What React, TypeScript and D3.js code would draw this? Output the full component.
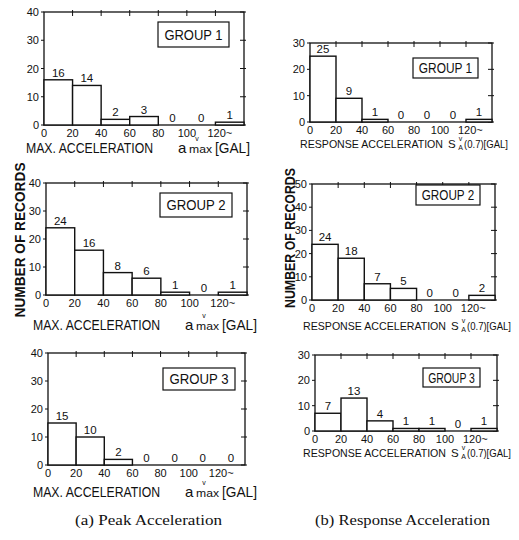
import React, { useEffect, useRef } from 'react';
import * as d3 from 'd3';

// bins are 20 gal wide, the last one is "120 and above"
const binStarts = [0, 20, 40, 60, 80, 100, 120];
const xTickLabels = ['0', '20', '40', '60', '80', '100', '120~'];
const groupNames = ['GROUP 1', 'GROUP 2', 'GROUP 3'];

// (a) peak acceleration, number of records per bin
const peakGroup1 = [16, 14, 2, 3, 0, 0, 1];
const peakGroup2 = [24, 16, 8, 6, 1, 0, 1];
const peakGroup3 = [15, 10, 2, 0, 0, 0, 0];

// (b) response acceleration, number of records per bin
const respGroup1 = [25, 9, 1, 0, 0, 0, 1];
const respGroup2 = [24, 18, 7, 5, 0, 0, 2];
const respGroup3 = [7, 13, 4, 1, 1, 0, 1];

const peakYMax = [40, 40, 40];
const respYMax = [30, 50, 30];

const FONT = "'Liberation Sans', 'DejaVu Sans', sans-serif";

interface Panel {
  kind: 'peak' | 'resp';
  values: number[];
  yMax: number;
  group: string;
  left: number;
  right: number;
  top: number;
  bottom: number;
  box: [number, number, number, number];
  labelX: number;
  labelY: number;
}

const App = () => {
  const ref = useRef<SVGSVGElement>(null);

  useEffect(() => {
    document.body.style.margin = '0';
    const svg = d3.select(ref.current);
    svg.selectAll('*').remove();

    const panels: Panel[] = [
      { kind: 'peak', values: peakGroup1, yMax: peakYMax[0], group: groupNames[0], left: 44, right: 244, top: 12, bottom: 125, box: [158, 22, 229, 47], labelX: 26, labelY: 153 },
      { kind: 'peak', values: peakGroup2, yMax: peakYMax[1], group: groupNames[1], left: 46, right: 247, top: 183, bottom: 295, box: [160, 193, 232, 217], labelX: 33, labelY: 330 },
      { kind: 'peak', values: peakGroup3, yMax: peakYMax[2], group: groupNames[2], left: 48, right: 245, top: 353, bottom: 465, box: [163, 368, 235, 390], labelX: 33, labelY: 497 },
      { kind: 'resp', values: respGroup1, yMax: respYMax[0], group: groupNames[0], left: 310, right: 492, top: 43, bottom: 122, box: [413, 58, 478, 78], labelX: 300, labelY: 148 },
      { kind: 'resp', values: respGroup2, yMax: respYMax[1], group: groupNames[1], left: 312, right: 495, top: 184, bottom: 300, box: [416, 185, 480, 205], labelX: 303, labelY: 330 },
      { kind: 'resp', values: respGroup3, yMax: respYMax[2], group: groupNames[2], left: 315, right: 497, top: 355, bottom: 431, box: [423, 368, 480, 387], labelX: 303, labelY: 457 },
    ];

    panels.forEach((p) => {
      const g = svg.append('g').attr('font-family', FONT).attr('fill', '#111');
      const x = d3.scaleLinear().domain([0, 140]).range([p.left, p.right]);
      const y = d3.scaleLinear().domain([0, p.yMax]).range([p.bottom, p.top]);
      const yTicks = d3.range(0, p.yMax + 1, 10);

      // frame
      g.append('rect')
        .attr('x', p.left)
        .attr('y', p.top)
        .attr('width', p.right - p.left)
        .attr('height', p.bottom - p.top)
        .attr('fill', 'none')
        .attr('stroke', '#111')
        .attr('stroke-width', 1.3);

      // ticks: left outward, right and top inward
      g.selectAll('.lt')
        .data(yTicks)
        .enter()
        .append('line')
        .attr('x1', p.left - 3)
        .attr('x2', p.left)
        .attr('y1', (d) => y(d))
        .attr('y2', (d) => y(d))
        .attr('stroke', '#111');
      g.selectAll('.rt')
        .data(yTicks)
        .enter()
        .append('line')
        .attr('x1', p.right - 4)
        .attr('x2', p.right + 2)
        .attr('y1', (d) => y(d))
        .attr('y2', (d) => y(d))
        .attr('stroke', '#111');
      g.selectAll('.tt')
        .data(binStarts.slice(1))
        .enter()
        .append('line')
        .attr('x1', (d) => x(d))
        .attr('x2', (d) => x(d))
        .attr('y1', p.top - 2)
        .attr('y2', p.top + 4)
        .attr('stroke', '#111');

      // y tick labels
      g.selectAll('.yl')
        .data(yTicks)
        .enter()
        .append('text')
        .attr('x', p.left - 5)
        .attr('y', (d) => y(d) + 4)
        .attr('text-anchor', 'end')
        .attr('font-size', 11)
        .text((d) => d);

      // x tick labels
      g.selectAll('.xl')
        .data(binStarts)
        .enter()
        .append('text')
        .attr('x', (d, i) => (i === binStarts.length - 1 ? x(d) - 8 : x(d)))
        .attr('y', p.bottom + 12)
        .attr('text-anchor', (d, i) => (i === binStarts.length - 1 ? 'start' : 'middle'))
        .attr('font-size', 11)
        .text((d, i) => xTickLabels[i]);

      // bars
      g.selectAll('.bar')
        .data(p.values)
        .enter()
        .append('rect')
        .attr('x', (d, i) => x(binStarts[i]))
        .attr('y', (d) => y(d))
        .attr('width', (d, i) => x(binStarts[i] + 20) - x(binStarts[i]))
        .attr('height', (d) => p.bottom - y(d))
        .attr('fill', 'white')
        .attr('stroke', '#111')
        .attr('stroke-width', 1.4)
        .style('display', (d) => (d === 0 ? 'none' : null));

      // counts above the bars
      g.selectAll('.val')
        .data(p.values)
        .enter()
        .append('text')
        .attr('x', (d, i) => x(binStarts[i] + 10))
        .attr('y', (d) => y(d) - 3)
        .attr('text-anchor', 'middle')
        .attr('font-size', 11.5)
        .text((d) => d);

      // group box
      const [bx0, by0, bx1, by1] = p.box;
      g.append('rect')
        .attr('x', bx0)
        .attr('y', by0)
        .attr('width', bx1 - bx0)
        .attr('height', by1 - by0)
        .attr('fill', 'white')
        .attr('stroke', '#111')
        .attr('stroke-width', 1.2);
      g.append('text')
        .attr('x', (bx0 + bx1) / 2)
        .attr('y', (by0 + by1) / 2 + 5)
        .attr('text-anchor', 'middle')
        .attr('font-size', 14)
        .attr('textLength', (bx1 - bx0) * 0.82)
        .attr('lengthAdjust', 'spacingAndGlyphs')
        .text(p.group);

      // x axis title
      const lx = p.labelX;
      const ly = p.labelY;
      if (p.kind === 'peak') {
        g.append('text').attr('x', lx).attr('y', ly).attr('font-size', 14)
          .attr('textLength', 127).attr('lengthAdjust', 'spacingAndGlyphs')
          .text('MAX. ACCELERATION');
        g.append('text').attr('x', lx + 152).attr('y', ly).attr('font-size', 15).text('a');
        g.append('text').attr('x', lx + 171).attr('y', ly - 12).attr('font-size', 7)
          .attr('text-anchor', 'middle').text('v');
        g.append('text').attr('x', lx + 163).attr('y', ly).attr('font-size', 11)
          .attr('textLength', 23).attr('lengthAdjust', 'spacingAndGlyphs').text('max');
        g.append('text').attr('x', lx + 189).attr('y', ly).attr('font-size', 14)
          .attr('textLength', 35).attr('lengthAdjust', 'spacingAndGlyphs').text('[GAL]');
      } else {
        g.append('text').attr('x', lx).attr('y', ly).attr('font-size', 10.6)
          .attr('textLength', 143).attr('lengthAdjust', 'spacingAndGlyphs')
          .text('RESPONSE ACCELERATION');
        g.append('text').attr('x', lx + 148).attr('y', ly).attr('font-size', 11.5).text('S');
        g.append('text').attr('x', lx + 160.5).attr('y', ly - 7).attr('font-size', 7)
          .attr('text-anchor', 'middle').text('v');
        g.append('text').attr('x', lx + 160.5).attr('y', ly + 2).attr('font-size', 7)
          .attr('text-anchor', 'middle').text('A');
        g.append('text').attr('x', lx + 164).attr('y', ly).attr('font-size', 11.5)
          .attr('textLength', 44).attr('lengthAdjust', 'spacingAndGlyphs').text('(0.7)[GAL]');
      }
    });

    // y axis titles
    [
      { cx: 25, cy: 240, len: 155 },
      { cx: 295, cy: 238, len: 140 },
    ].forEach((t) => {
      svg.append('text')
        .attr('transform', `translate(${t.cx},${t.cy}) rotate(-90)`)
        .attr('text-anchor', 'middle')
        .attr('font-family', FONT)
        .attr('font-size', 14)
        .attr('font-weight', 'bold')
        .attr('textLength', t.len)
        .attr('lengthAdjust', 'spacingAndGlyphs')
        .attr('fill', '#111')
        .text('NUMBER  OF  RECORDS');
    });

    // captions
    [
      { x: 75, len: 147, label: '(a) Peak Acceleration' },
      { x: 315, len: 175, label: '(b) Response Acceleration' },
    ].forEach((c) => {
      svg.append('text')
        .attr('x', c.x)
        .attr('y', 525)
        .attr('font-family', "'Liberation Serif', 'DejaVu Serif', serif")
        .attr('font-size', 15)
        .attr('textLength', c.len)
        .attr('lengthAdjust', 'spacingAndGlyphs')
        .attr('fill', '#111')
        .text(c.label);
    });
  }, []);

  return <svg ref={ref} width={519} height={540} style={{ display: 'block', background: 'white' }} />;
};

export default App;
